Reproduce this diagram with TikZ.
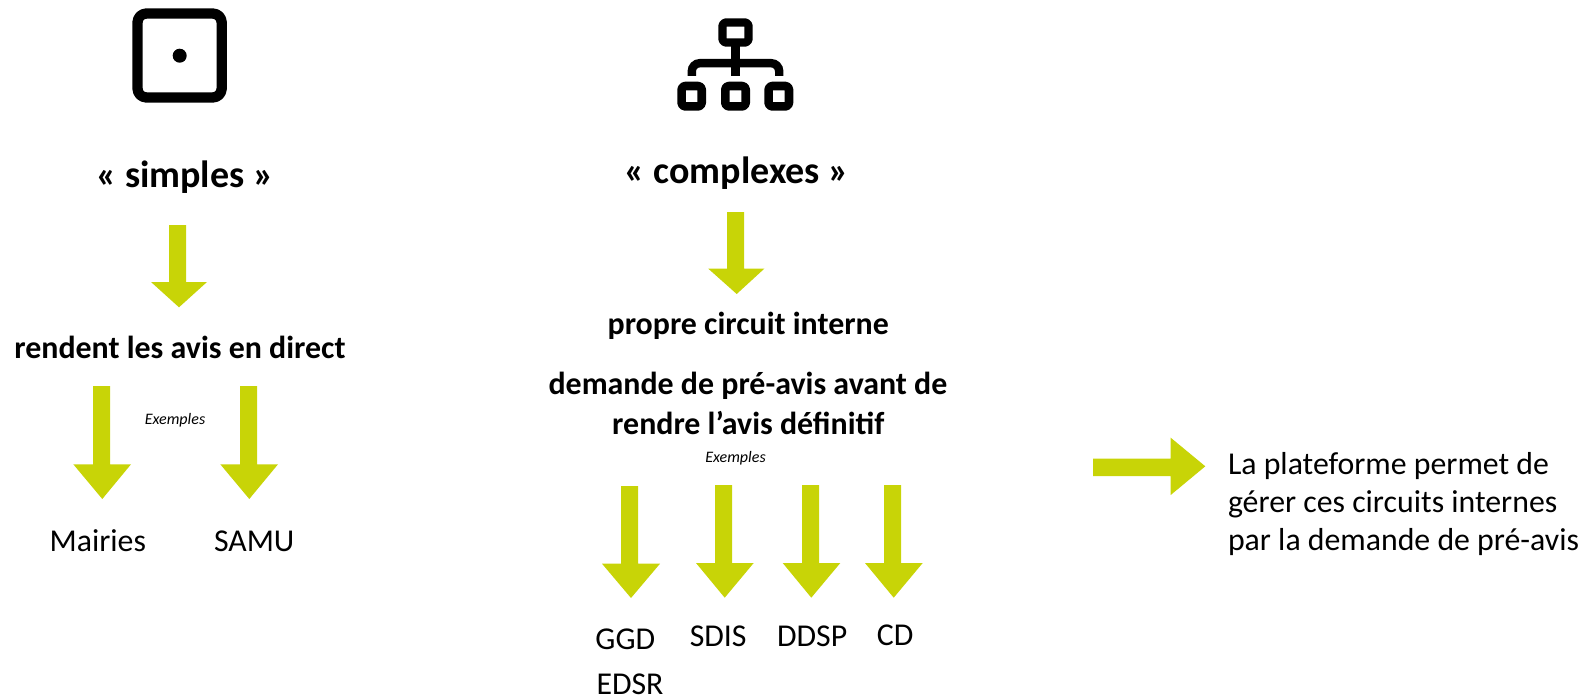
\documentclass[tikz,border=0pt]{standalone}
\usepackage{fontspec}
\setmainfont{Carlito}
\definecolor{lime}{HTML}{C8D407}
\tikzset{
  blockarrow/.style={fill=lime},
  lbl/.style={anchor=base,inner sep=0pt,outer sep=0pt,text=black},
  bigbold/.style={lbl,font=\fontsize{38}{45}\selectfont\bfseries},
  bold/.style={lbl,font=\fontsize{31.9}{38}\selectfont\bfseries},
  plain/.style={lbl,font=\fontsize{31.8}{38}\selectfont},
  ex/.style={lbl,font=\fontsize{16}{19}\selectfont\itshape},
  para/.style={anchor=base west,inner sep=0pt,outer sep=0pt,font=\fontsize{31.8}{38}\selectfont},
  iconline/.style={draw=black,fill=none,line join=round}
}
\newcommand{\downblock}[8]{\fill[blockarrow] (#1,#3) -- (#2,#3) -- (#2,#4) -- (#6,#4) -- (#7,#8) -- (#5,#4) -- (#1,#4) -- cycle;}
\begin{document}
\begin{tikzpicture}[x=1pt,y=-1pt]
\useasboundingbox (0,0) rectangle (1588,698);
% icon simple
\draw[iconline,line width=10.3pt,rounded corners=9pt] (137.5,13.5) rectangle (221.7,97.5);
\fill[black] (179.7,55.7) circle[radius=7];
% icon complex
\draw[iconline,line width=8.4pt,rounded corners=3.5pt] (722.5,22.5) rectangle (748.5,42.5);
\fill[black] (731.3,44) rectangle (739.7,76);
\draw[black,line width=8.4pt,rounded corners=8pt] (691.8,76) -- (691.8,63.2) -- (779.2,63.2) -- (779.2,76);
\draw[iconline,line width=8.6pt,rounded corners=3.5pt] (681.6,86) rectangle (701.7,106.4);
\draw[iconline,line width=8.6pt,rounded corners=3.5pt] (725.3,86) rectangle (745.7,106.4);
\draw[iconline,line width=8.6pt,rounded corners=3.5pt] (768.6,86) rectangle (789,106.4);
% arrows: shaft L, shaft R, top, base, head L, head R, tip x, tip y
\downblock{169}{186}{225}{282}{151}{207}{179}{307.3}
\downblock{93}{110}{386}{464.3}{73.3}{131}{102.3}{499}
\downblock{240}{257}{386}{464.3}{220.3}{278}{249.3}{499}
\downblock{727}{744}{212}{268.7}{708.3}{764.3}{736.7}{294}
\downblock{621}{638}{486}{563.7}{602}{660}{631}{598}
\downblock{715}{732}{485}{563}{696}{753.7}{724.7}{597.7}
\downblock{802}{819}{485}{563}{782.7}{840.3}{811.3}{597.7}
\downblock{884}{901}{485}{563}{865}{922.7}{893.7}{597.7}
\fill[blockarrow] (1093,458.7) -- (1170.7,458.7) -- (1170.7,437.7) -- (1205.3,466.3) -- (1170.7,495) -- (1170.7,476) -- (1093,476) -- cycle;
% texts
\node[bigbold] (simples) at (184.8,187) {« simples »};
\node[bigbold] (complexes) at (736.8,183) {« complexes »};
\node[bold] (direct) at (180,358) {rendent les avis en direct};
\node[ex] (ex1) at (175,424) {Exemples};
\node[plain] (mairies) at (97.8,551) {Mairies};
\node[plain] (samu) at (254.2,551) {SAMU};
\node[bold] (circuit) at (748.2,334) {propre circuit interne};
\node[bold] (demande) at (748,394) {demande de pré-avis avant de};
\node[bold] (rendre) at (748.3,434.5) {rendre l’avis définitif};
\node[ex] (ex2) at (735.5,462.5) {Exemples};
\node[plain] (ggd) at (625.3,649) {GGD};
\node[plain] (edsr) at (630,694.5) {EDSR};
\node[plain] (sdis) at (718.2,646.5) {SDIS};
\node[plain] (ddsp) at (812.2,646.5) {DDSP};
\node[plain] (cd) at (895.2,645) {CD};
\node[para] (p1) at (1228,474) {La plateforme permet de};
\node[para] (p2) at (1228,512.5) {gérer ces circuits internes};
\node[para] (p3) at (1228,550) {par la demande de pré-avis};
\end{tikzpicture}
\end{document}
